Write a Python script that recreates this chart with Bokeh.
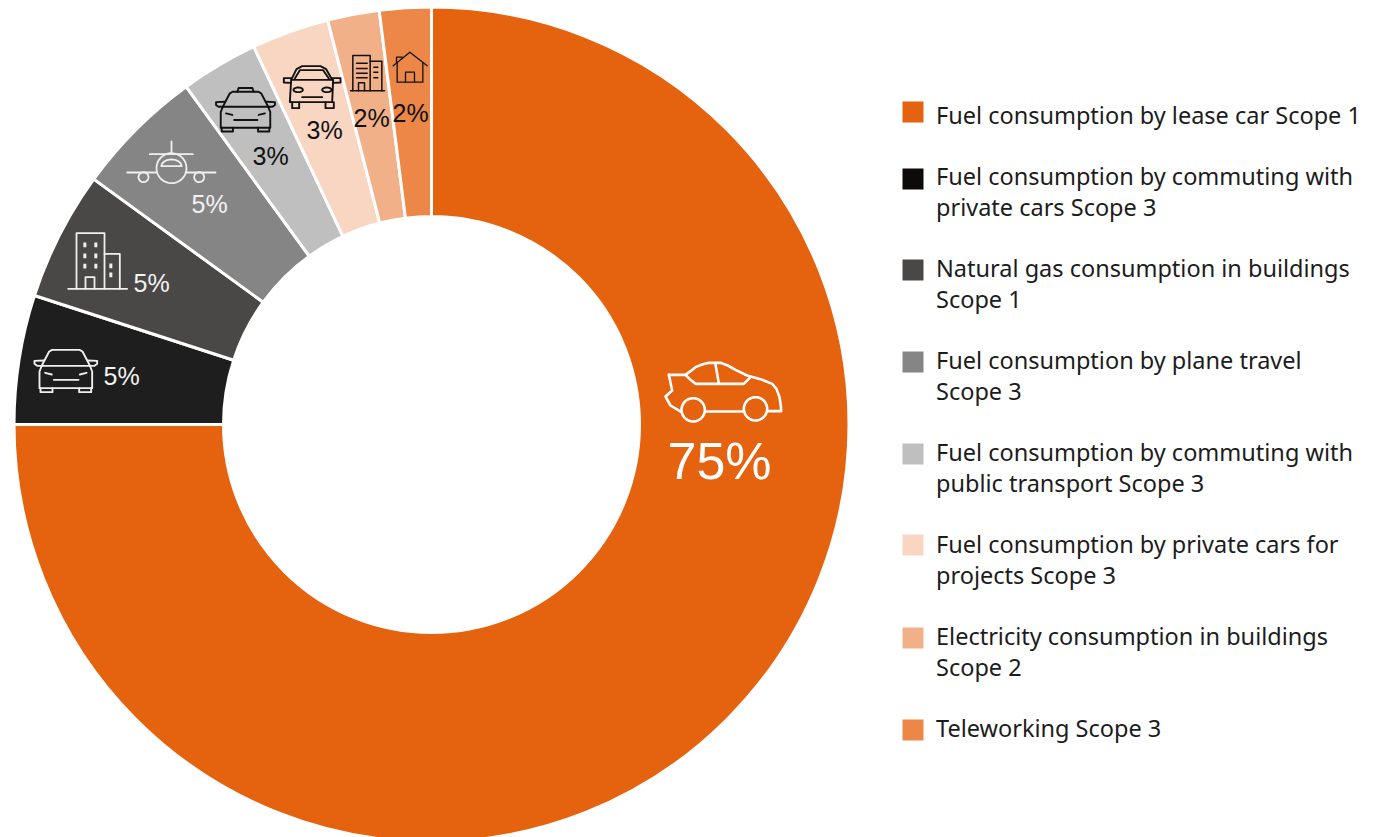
import numpy as np
from bokeh.plotting import figure
from bokeh.models import Range1d
from bokeh.core.properties import value
from bokeh.embed import file_html
from bokeh.resources import INLINE

# ---------- data ----------
categories = [
    "Fuel consumption by lease car Scope 1",
    "Fuel consumption by commuting with\nprivate cars Scope 3",
    "Natural gas consumption in buildings\nScope 1",
    "Fuel consumption by plane travel\nScope 3",
    "Fuel consumption by commuting with\npublic transport Scope 3",
    "Fuel consumption by private cars for\nprojects Scope 3",
    "Electricity consumption in buildings\nScope 2",
    "Teleworking Scope 3",
]
shares = [75, 5, 5, 5, 3, 3, 2, 2]
wedge_colors = ["#E5620F", "#1E1E1E", "#4A4846", "#868586", "#BFBFBF", "#F8D6C2", "#F2B088", "#EC8748"]
legend_colors = ["#E5620F", "#0D0A09", "#4A4846", "#868586", "#BFBFBF", "#F8D6C2", "#F2B088", "#EC8748"]
label_text = ["75%", "5%", "5%", "5%", "3%", "3%", "2%", "2%"]
label_color = ["#FFFFFF", "#F2F2F2", "#F2F2F2", "#F2F2F2", "#111111", "#111111", "#111111", "#111111"]
label_left = [667, 103, 133, 191, 252, 306, 353, 392]
label_base = [480, 385, 291.5, 212.5, 164.5, 139, 127, 122]
label_px = [52] + [25] * 7

legend_top = [101, 168, 259, 351, 443, 534, 627, 719]
legend_base = [123, 184, 276, 368, 460, 552, 644, 736]
LEGEND_PX = 23.5
LINE_STEP = 31
BASE_SHIFT = 0.38  # the rendered baseline sits this many em below the anchor

W, H = 1379, 837
CX, CY, R_OUT, R_IN = 431, 424, 417.5, 208


def X(px):
    return np.asarray(px, dtype=float)


def Y(py):
    return H - np.asarray(py, dtype=float)


p = figure(width=W, height=H, output_backend="svg", toolbar_location=None,
           x_range=Range1d(0, W), y_range=Range1d(0, H), min_border=0,
           background_fill_color="#FFFFFF", border_fill_color="#FFFFFF", outline_line_color=None)
p.axis.visible = False
p.grid.visible = False

# ---------- donut ----------
frac = np.array(shares, dtype=float) / sum(shares) * 2 * np.pi
ends = np.cumsum(frac)
starts = ends - frac
p.annular_wedge(x=[float(X(CX))] * 8, y=[float(Y(CY))] * 8, inner_radius=R_IN, outer_radius=R_OUT,
                start_angle=list(np.pi / 2 - starts), end_angle=list(np.pi / 2 - ends), direction="clock",
                fill_color=wedge_colors, line_color="#FFFFFF", line_width=3)

# ---------- labels ----------
p.text(x=list(X(label_left)), y=list(Y(np.array(label_base) - BASE_SHIFT * np.array(label_px))),
       text=label_text, text_color=label_color,
       text_font=value("Liberation Sans"), text_font_size=[f"{s}px" for s in label_px],
       text_align="left", text_baseline="alphabetic")

# ---------- legend ----------
lx = X([902, 923])
p.quad(left=float(lx[0]), right=float(lx[1]), top=list(Y(legend_top)), bottom=list(Y(np.array(legend_top) + 21)),
       fill_color=legend_colors, line_color=None)
rows, row_y = [], []
for cat, base in zip(categories, legend_base):
    for i, part in enumerate(cat.split("\n")):
        rows.append(part)
        row_y.append(base + i * LINE_STEP - BASE_SHIFT * LEGEND_PX)
p.text(x=[float(X(935.5))] * len(rows), y=list(Y(row_y)), text=rows, text_color="#1C1C1C",
       text_font=value("Noto Sans"), text_font_size=f"{LEGEND_PX}px",
       text_align="left", text_baseline="alphabetic")


# ---------- icons ----------
def ring(cx, cy, r, a0=0, a1=360, ry=None):
    ry = r if ry is None else ry
    t = np.radians(np.linspace(a0, a1, 40))
    return [(cx + r * np.cos(a), cy - ry * np.sin(a)) for a in t]


def draw(paths, ox, oy, k, color, lw):
    """Paths are in units of 1/3 page pixel (zoom crop units); ox, oy = crop origin on the page."""
    xs = [list(X(ox + k * np.array([q[0] for q in s]) / 3)) for s in paths]
    ys = [list(Y(oy + k * np.array([q[1] for q in s]) / 3)) for s in paths]
    p.multi_line(xs, ys, line_color=color, line_width=lw, line_join="round", line_cap="round")


def car_front_paths():
    return [
        [(-41, -62), (41, -62), (50, -57), (72, -15), (79, 3), (79, 53), (-79, 53), (-79, 3), (-72, -15), (-50, -57), (-41, -62)],
        [(-72, -14), (72, -14)],
        [(-72, -14), (-86, -14), (-94, -20), (-94, -29), (-66, -30)],
        [(72, -14), (86, -14), (94, -20), (94, -29), (66, -30)],
        [(-76, 53), (-76, 65), (-40, 65), (-40, 53)],
        [(40, 53), (40, 65), (76, 65), (76, 53)],
        [(-62, 7), (-42, 12)],
        [(62, 7), (42, 12)],
        [(-36, 28), (38, 28)],
    ]


# sedan in the large wedge
draw([
    [(85, 103), (135, 103), (150, 92), (165, 80), (185, 72), (205, 67), (240, 67), (262, 75), (285, 88), (320, 105),
     (360, 116), (395, 130), (408, 145), (417, 170), (421, 195), (422, 212), (385, 212)],
    [(85, 103), (95, 150), (75, 168), (90, 195), (122, 214)],
    [(135, 103), (150, 118), (165, 130), (310, 130), (328, 112)],
    [(225, 72), (235, 128)],
    [(195, 213), (310, 213)],
    ring(158, 208, 35), ring(345, 205, 35),
], 640, 340, 1, "#FFFFFF", 2.6)

# front car in the black wedge
draw(car_front_paths(), 20 + 136 / 3, 1110 / 3, 1, "#EFEFEF", 1.9)

# building in the dark grey wedge
draw([
    [(143, 865), (320, 865)],
    [(168, 865), (168, 698), (252, 698), (252, 865)],
    [(252, 760), (298, 760), (298, 865)],
    [(195, 865), (195, 830), (222, 830), (222, 865)],
], 20, 0, 1, "#EFEFEF", 1.8)
wx = [193, 226, 193, 226, 193, 226, 271, 271]
wy = [733, 733, 766, 766, 797, 797, 796, 823]
p.quad(left=list(X(20 + (np.array(wx) - 4.5) / 3)), right=list(X(20 + (np.array(wx) + 4.5) / 3)),
       top=list(Y((np.array(wy) - 7) / 3)), bottom=list(Y((np.array(wy) + 7) / 3)),
       fill_color="#EFEFEF", line_color=None)

# plane
draw([
    [(453, 423), (453, 461)],
    [(388, 461), (517, 461)],
    ring(453, 503, 45),
    [(320, 516), (408, 516)],
    [(498, 516), (585, 516)],
    ring(369, 530, 15), ring(536, 530, 15),
    [(423, 497), (483, 497)],
    ring(453, 497, 30, 0, 180, ry=20),
], 20, 0, 1, "#EFEFEF", 1.8)

# taxi
draw(car_front_paths() + [[(-26, -62), (-22, -74), (22, -74), (26, -62)]],
     20 + 675 / 3, 332 / 3, 0.94, "#111111", 1.9)

# private car for projects
draw([
    [(812, 238), (828, 206), (845, 197), (900, 197), (917, 206), (935, 238)],
    [(812, 238), (808, 305), (935, 305), (938, 238), (812, 238)],
    [(823, 234), (838, 209), (908, 209), (925, 234)],
    [(812, 233), (790, 233), (790, 246), (810, 247)],
    [(935, 233), (960, 233), (960, 246), (938, 247)],
    [(815, 305), (815, 323), (836, 323), (836, 305)],
    [(915, 305), (915, 323), (940, 323), (940, 305)],
    ring(833, 268, 14, ry=7), ring(919, 268, 14, ry=7),
    [(845, 290), (905, 290)],
], 20, 0, 1, "#111111", 1.9)

# office building
draw([
    [(990, 271), (1092, 271)],
    [(997, 271), (997, 165), (1049, 165), (1049, 271)],
    [(1049, 182), (1084, 182), (1084, 271)],
    [(1014, 271), (1014, 247), (1032, 247), (1032, 271)],
    [(1008, 188), (1040, 188)], [(1008, 204), (1040, 204)], [(1008, 218), (1040, 218)], [(1008, 232), (1040, 232)],
    [(1060, 200), (1072, 200)], [(1060, 215), (1072, 215)], [(1060, 232), (1072, 232)],
], 20, 0, 1, "#111111", 1.5)

# house
draw([
    [(1118, 196), (1168, 155), (1220, 196)],
    [(1128, 185), (1128, 170), (1145, 170), (1145, 172)],
    [(1130, 188), (1130, 245), (1207, 245), (1207, 188)],
    [(1155, 245), (1155, 215), (1182, 215), (1182, 245)],
], 20, 0, 1, "#111111", 1.3)

open("out.html", "w").write(file_html(p, INLINE))
